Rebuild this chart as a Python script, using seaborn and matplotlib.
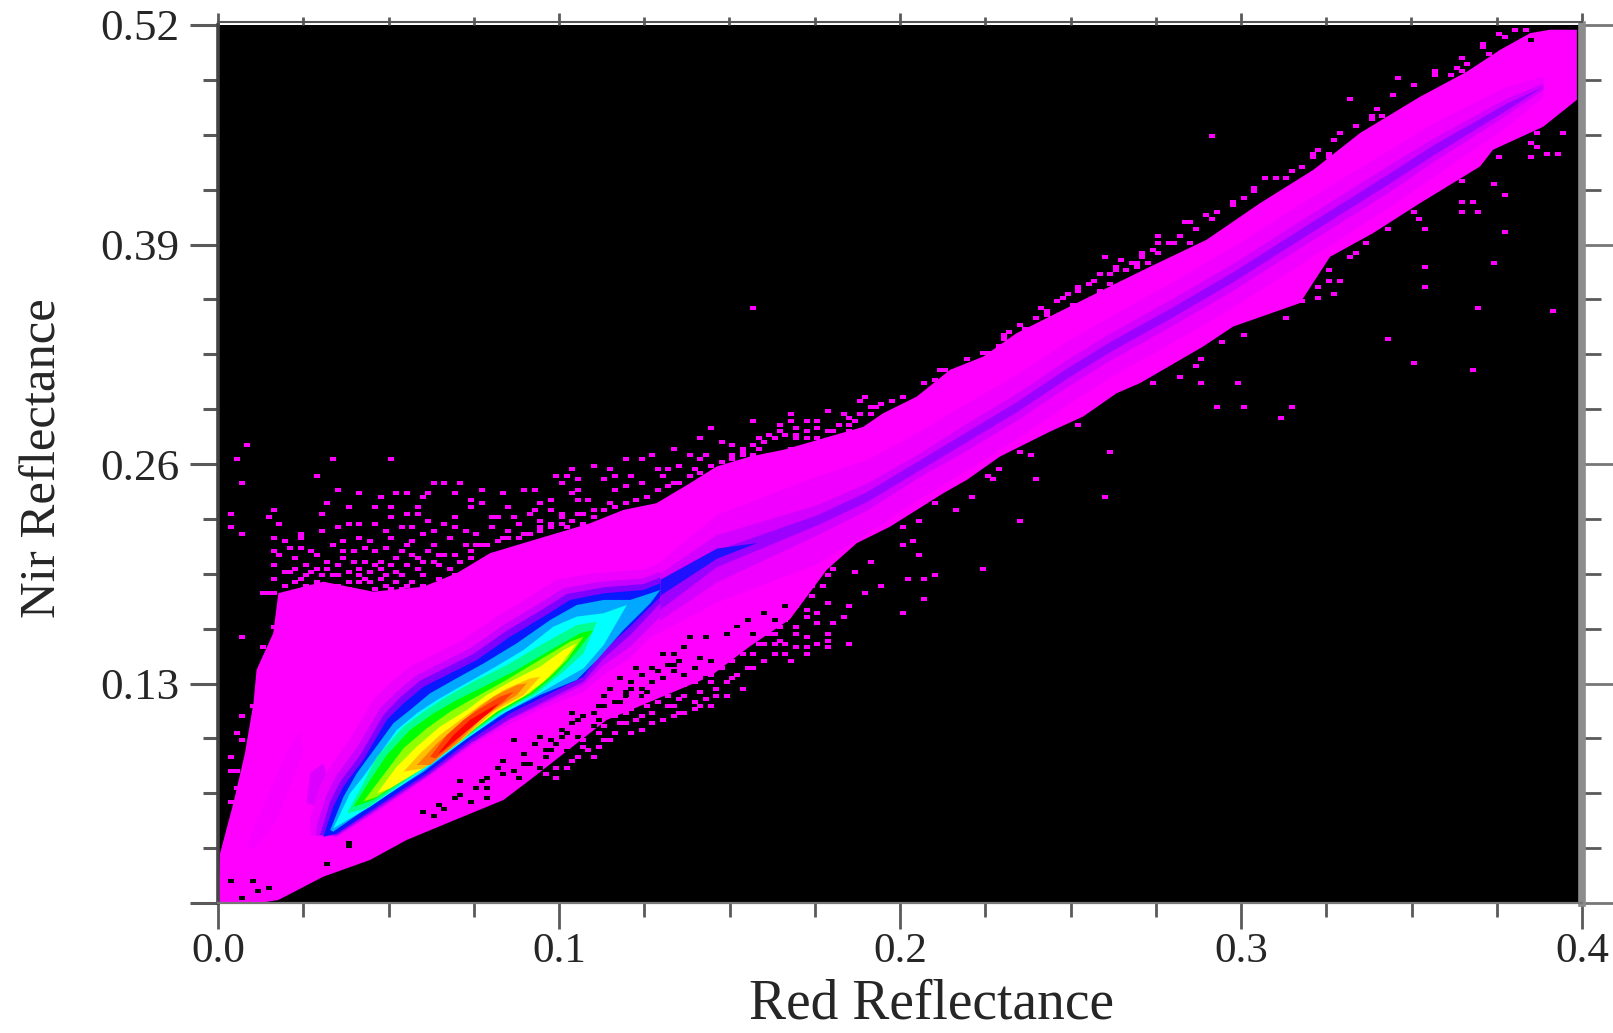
import matplotlib.pyplot as plt
import matplotlib.transforms as mtransforms
from matplotlib.markers import MarkerStyle
from matplotlib.path import Path
import numpy as np
import seaborn as sns

# the source is a 256 x 256 density image, speckle is kept as (red cell, nir cell)
n_cells = 256
red_max = 0.4
nir_max = 0.52

# outer edge of the solid magenta cloud
body_upper_red = [0.0, 0.0006, 0.0045, 0.0079, 0.0104, 0.0113, 0.0162, 0.0177, 0.0309, 0.0455, 0.0602, 0.07,
                  0.0798, 0.0895, 0.0993, 0.1091, 0.1189, 0.1286, 0.1384, 0.1462, 0.156, 0.1658, 0.1892, 0.1951,
                  0.2049, 0.2147, 0.2244, 0.2342, 0.244, 0.2537, 0.2635, 0.2733, 0.2899, 0.3056, 0.3212, 0.3349,
                  0.3525, 0.3662, 0.376, 0.3848, 0.3906, 0.3985]
body_upper_nir = [0.0, 0.0294, 0.059, 0.0887, 0.1183, 0.138, 0.1598, 0.1835, 0.1903, 0.1844, 0.1873, 0.1953,
                  0.2072, 0.2131, 0.219, 0.2249, 0.2328, 0.2368, 0.2486, 0.2585, 0.2644, 0.2684, 0.282, 0.2901,
                  0.2999, 0.3158, 0.3236, 0.3375, 0.3474, 0.3572, 0.3671, 0.3768, 0.3928, 0.4145, 0.4342, 0.456,
                  0.4775, 0.4923, 0.5053, 0.5152, 0.5172, 0.5172]
body_lower_red = [0.0, 0.0123, 0.0177, 0.0309, 0.0446, 0.0553, 0.0671, 0.0837, 0.0915, 0.114, 0.1443, 0.156,
                  0.1677, 0.1785, 0.1873, 0.1971, 0.2127, 0.2196, 0.2293, 0.244, 0.2537, 0.2635, 0.2704, 0.2889,
                  0.2977, 0.3173, 0.3261, 0.3387, 0.3525, 0.3701, 0.3739, 0.3886, 0.3985]
body_lower_nir = [0.0, 0.0, 0.0018, 0.0156, 0.0255, 0.0373, 0.0472, 0.061, 0.0729, 0.1084, 0.1341, 0.152,
                  0.168, 0.1973, 0.2131, 0.2229, 0.2427, 0.2506, 0.2644, 0.2792, 0.2881, 0.3019, 0.3079, 0.3296,
                  0.3414, 0.3553, 0.3827, 0.3967, 0.4145, 0.4362, 0.4461, 0.4597, 0.4757]

# faint patches left of the core
patch_red = [0.026, 0.027, 0.0309, 0.0328, 0.0328]
patch_nir = [0.059, 0.0768, 0.0828, 0.0689, 0.0551]
streak_red = [0.0084, 0.0113, 0.0201, 0.024, 0.025, 0.0172, 0.0104]
streak_nir = [0.0334, 0.0492, 0.0887, 0.1025, 0.0887, 0.0492, 0.0314]

# density ridge running up the diagonal
ridge_red = [0.1, 0.1267, 0.1462, 0.1756, 0.1902, 0.2049, 0.2196, 0.2342, 0.2489, 0.2616, 0.2792, 0.2977, 0.3193,
             0.3427, 0.3564, 0.3779, 0.3886]
ridge_nir = [0.138, 0.1775, 0.2042, 0.2269, 0.2407, 0.2585, 0.2763, 0.294, 0.3138, 0.3296, 0.3493, 0.371, 0.3987,
             0.4283, 0.4461, 0.4718, 0.4837]
ridge_wide = [0.006, 0.02, 0.026, 0.026, 0.022, 0.02, 0.02, 0.019, 0.019, 0.018, 0.018, 0.018, 0.018,
              0.017, 0.016, 0.012, 0.006]
ridge_mid = [0.003, 0.014, 0.014, 0.009, 0.008, 0.007, 0.008, 0.008, 0.008, 0.008, 0.008, 0.008, 0.008,
             0.008, 0.007, 0.005, 0.002]
ridge_core = [0.0, 0.008, 0.005, 0.003, 0.003, 0.003, 0.003, 0.003, 0.003, 0.003, 0.003, 0.003, 0.003,
              0.003, 0.003, 0.002, 0.0]
tip_red = [0.125, 0.1267, 0.1462, 0.158]
tip_nir = [0.178, 0.1835, 0.2072, 0.2135]
tip_spread = [0.004, 0.005, 0.003, 0.0]

# contours of the dense core, outer to inner
halo_red = [0.027, 0.0298, 0.0328, 0.0386, 0.0455, 0.0504, 0.0563, 0.0641, 0.0719, 0.0817, 0.0915, 0.0993, 0.1101,
            0.1248, 0.1297, 0.1297, 0.1209, 0.1131, 0.1072, 0.0955, 0.0857, 0.0739, 0.0612, 0.0466, 0.0348, 0.027]
halo_nir = [0.05, 0.069, 0.0809, 0.0967, 0.1204, 0.1302, 0.1401, 0.148, 0.1559, 0.1697, 0.1816, 0.1915, 0.1954,
            0.1974, 0.2013, 0.164, 0.145, 0.135, 0.125, 0.1155, 0.106, 0.0925, 0.0738, 0.054, 0.039, 0.04]
violet_red = [0.0289, 0.0318, 0.0348, 0.0406, 0.0475, 0.0524, 0.0583, 0.0661, 0.0739, 0.0837, 0.0935, 0.1013, 0.1121,
              0.1248, 0.1297, 0.1297, 0.1209, 0.1131, 0.1072, 0.0955, 0.0857, 0.0739, 0.0612, 0.0466, 0.0348, 0.0289]
violet_nir = [0.045, 0.064, 0.0758, 0.0916, 0.1153, 0.1251, 0.135, 0.1429, 0.1508, 0.1646, 0.1765, 0.1864, 0.1903,
              0.1923, 0.1962, 0.1696, 0.1518, 0.1409, 0.1291, 0.1178, 0.1084, 0.0935, 0.0745, 0.0545, 0.0395, 0.04]
purple_red = [0.0299, 0.0329, 0.0358, 0.0417, 0.0485, 0.0534, 0.0593, 0.0671, 0.0749, 0.0847, 0.0945, 0.1023, 0.1131,
              0.1248, 0.1297, 0.1297, 0.1209, 0.1131, 0.1072, 0.0955, 0.0857, 0.0739, 0.0612, 0.0466, 0.0348]
purple_nir = [0.0402, 0.06, 0.0718, 0.0876, 0.1113, 0.1218, 0.1317, 0.1396, 0.1475, 0.1613, 0.1731, 0.183, 0.187,
              0.1889, 0.1929, 0.1775, 0.1587, 0.1449, 0.1311, 0.1192, 0.1093, 0.0945, 0.0752, 0.0558, 0.0402]
blue_red = [0.0309, 0.0338, 0.0368, 0.0426, 0.0495, 0.0544, 0.0603, 0.0681, 0.0759, 0.0857, 0.0955, 0.1033, 0.1131,
            0.1248, 0.1297, 0.1297, 0.1209, 0.1131, 0.1072, 0.0955, 0.0857, 0.0739, 0.0612, 0.0466, 0.0348]
blue_nir = [0.0392, 0.057, 0.0689, 0.0847, 0.1084, 0.1182, 0.1281, 0.136, 0.1439, 0.1577, 0.1696, 0.1795, 0.1834,
            0.1854, 0.1893, 0.1814, 0.1637, 0.1498, 0.134, 0.1222, 0.1123, 0.0965, 0.0768, 0.057, 0.0412]
sky_red = [0.0329, 0.0368, 0.0407, 0.0514, 0.0563, 0.0622, 0.0691, 0.0779, 0.0876, 0.0974, 0.1052, 0.1131, 0.1209,
           0.1268, 0.1297, 0.1268, 0.1189, 0.1111, 0.1052, 0.0945, 0.0847, 0.073, 0.0603, 0.0456, 0.0338]
sky_nir = [0.0432, 0.0629, 0.0768, 0.1064, 0.1143, 0.1242, 0.1321, 0.1419, 0.1538, 0.1676, 0.1765, 0.1795, 0.1795,
           0.1834, 0.1854, 0.1775, 0.1617, 0.1439, 0.1321, 0.1232, 0.1133, 0.0975, 0.0777, 0.059, 0.0422]
cyan_red = [0.0338, 0.0387, 0.0426, 0.0524, 0.0583, 0.0642, 0.071, 0.0798, 0.0896, 0.0984, 0.1052, 0.1131, 0.1199,
            0.1131, 0.1072, 0.0994, 0.0935, 0.0827, 0.071, 0.0583, 0.0446]
cyan_nir = [0.0442, 0.0649, 0.0748, 0.1024, 0.1123, 0.1202, 0.1281, 0.138, 0.1498, 0.1637, 0.1696, 0.1716, 0.1765,
            0.1528, 0.139, 0.1301, 0.1232, 0.1113, 0.0945, 0.0758, 0.057]
spring_red = [0.0378, 0.0426, 0.0466, 0.0544, 0.0603, 0.0671, 0.0749, 0.0847, 0.0955, 0.1052, 0.1111,
              0.1072, 0.1013, 0.0935, 0.0827, 0.071, 0.0583, 0.0436]
spring_nir = [0.053, 0.0708, 0.0866, 0.1044, 0.1133, 0.1222, 0.1311, 0.1409, 0.1538, 0.1646, 0.1666,
              0.1479, 0.137, 0.1242, 0.1123, 0.0955, 0.0768, 0.056]
green_red = [0.0397, 0.0446, 0.0495, 0.0563, 0.0632, 0.07, 0.0779, 0.0876, 0.0984, 0.1062, 0.1101,
             0.1052, 0.0994, 0.0925, 0.0827, 0.071, 0.0583, 0.0456]
green_nir = [0.057, 0.0728, 0.0876, 0.1024, 0.1123, 0.1202, 0.1281, 0.138, 0.1508, 0.1597, 0.1617,
             0.1488, 0.136, 0.1242, 0.1133, 0.0965, 0.0777, 0.061]
lime_red = [0.0426, 0.0485, 0.0544, 0.0612, 0.0681, 0.0749, 0.0837, 0.0935, 0.1033, 0.1072,
            0.1023, 0.0974, 0.0915, 0.0823, 0.071, 0.0583, 0.0466]
lime_nir = [0.06, 0.0758, 0.0916, 0.1034, 0.1133, 0.1212, 0.1311, 0.1429, 0.1548, 0.1577,
            0.1439, 0.134, 0.1242, 0.1143, 0.0975, 0.0787, 0.0629]
yellow_red = [0.0466, 0.0524, 0.0583, 0.0651, 0.073, 0.0788, 0.0867, 0.0945, 0.1013, 0.1052,
              0.1004, 0.0955, 0.0896, 0.0818, 0.071, 0.0593, 0.0505]
yellow_nir = [0.0649, 0.0807, 0.0926, 0.1044, 0.1143, 0.1232, 0.1321, 0.14, 0.1498, 0.1538,
              0.1409, 0.1311, 0.1222, 0.1133, 0.0965, 0.0787, 0.0679]
amber_red = [0.0544, 0.0593, 0.0651, 0.071, 0.0769, 0.0837, 0.0915, 0.0945, 0.0896, 0.0808, 0.071, 0.0603]
amber_nir = [0.0778, 0.0886, 0.0995, 0.1084, 0.1172, 0.1261, 0.133, 0.134, 0.1232, 0.1133, 0.0955, 0.0797]
orange_red = [0.0583, 0.0642, 0.07, 0.0749, 0.0808, 0.0876, 0.0906, 0.0876, 0.0779, 0.07, 0.0622]
orange_nir = [0.0817, 0.0945, 0.1044, 0.1133, 0.1222, 0.1291, 0.1301, 0.1232, 0.1103, 0.0945, 0.0817]
scarlet_red = [0.0622, 0.0671, 0.072, 0.0769, 0.0827, 0.0867, 0.0837, 0.0759, 0.069, 0.0637]
scarlet_nir = [0.0866, 0.0995, 0.1084, 0.1153, 0.1222, 0.1251, 0.1192, 0.1074, 0.0945, 0.0856]
peak_red = [0.0646, 0.0691, 0.0739, 0.0788, 0.0823, 0.0798, 0.0739, 0.069, 0.0656]
peak_nir = [0.0886, 0.0995, 0.1084, 0.1143, 0.1182, 0.1133, 0.1034, 0.0955, 0.0896]

# lone cells above the cloud, left part
speck_upper_left = [
    (5, 133), (3, 129), (21, 129), (32, 129), (18, 124), (4, 122), (22, 120), (40, 122), (42, 122), (45, 122),
    (49, 120), (26, 119), (30, 118), (33, 119), (35, 119), (39, 119), (38, 118), (44, 119), (47, 117), (53, 119),
    (57, 120), (59, 120), (63, 124), (65, 124), (67, 123), (66, 126), (70, 127), (73, 126), (74, 124), (72, 123),
    (77, 124), (76, 129), (79, 129), (81, 130), (85, 132), (90, 135), (92, 138), (88, 130), (91, 130), (82, 126),
    (84, 126), (86, 127), (89, 126), (83, 124), (85, 122), (79, 122), (76, 121), (74, 120), (67, 120), (64, 122),
    (66, 119), (67, 117), (69, 117), (62, 117), (60, 116), (62, 114), (59, 114), (47, 115), (49, 116), (54, 115),
    (20, 116), (24, 115), (29, 115), (32, 115), (37, 115), (10, 114), (2, 113), (19, 113), (24, 110), (9, 112),
    (11, 110), (22, 109), (29, 110), (32, 112), (35, 113), (37, 113), (44, 112), (51, 112), (55, 112), (58, 113),
    (64, 113), (2, 109), (4, 107), (10, 106), (10, 102), (11, 101), (13, 103), (15, 107), (15, 106), (15, 103),
    (17, 102), (18, 101), (21, 104), (26, 106), (27, 103), (29, 102), (23, 102), (20, 99), (23, 100), (25, 99),
    (27, 99), (20, 97), (22, 95), (26, 97), (29, 98), (31, 95), (32, 98), (30, 94), (33, 93), (35, 92), (40, 92),
    (34, 102), (35, 104), (32, 106), (36, 105), (38, 107), (34, 109), (39, 111), (42, 110), (40, 108), (44, 109),
    (46, 108), (48, 107), (51, 109), (54, 108), (56, 110), (60, 111), (62, 110), (64, 112), (67, 113), (40, 99),
    (41, 98), (44, 95), (38, 95), (37, 97), (34, 95), (29, 91), (22, 92), (24, 91), (32, 91), (34, 91), (10, 98),
    (13, 96), (15, 94), (17, 96), (10, 94), (12, 105), (14, 100), (16, 98), (18, 97), (21, 95), (24, 96), (27, 94),
    (25, 102), (28, 105), (31, 103), (33, 100), (36, 101), (38, 99), (30, 99), (23, 105), (19, 108), (26, 110),
    (31, 108), (36, 109), (40, 104), (43, 106), (46, 104), (42, 101), (49, 104), (53, 106), (57, 107), (52, 112),
    (60, 108), (65, 109), (70, 114), (73, 116), (68, 110), (8, 90), (9, 90), (10, 90),
    (12, 92), (14, 93), (16, 92), (18, 93), (20, 92), (26, 93), (28, 93), (31, 92), (36, 93), (38, 92), (41, 94),
    (43, 97), (45, 99), (47, 100), (12, 96), (14, 97), (16, 95), (19, 95), (22, 98), (24, 93), (26, 95), (28, 96),
    (30, 97), (33, 96), (35, 98), (37, 100), (39, 102), (41, 101), (44, 101), (47, 102), (48, 104), (50, 104),
    (52, 105), (54, 106), (56, 106), (58, 107), (60, 109), (62, 109), (64, 110), (66, 111), (68, 113), (70, 112),
    (72, 114), (74, 115), (76, 116), (78, 117), (80, 118), (82, 120), (84, 121), (86, 122), (88, 124), (90, 125),
]
# cells left of the funnel
speck_funnel = [
    (13, 84), (10, 80), (13, 79), (14, 76), (12, 75), (8, 74), (9, 71), (4, 77), (7, 62), (6, 57), (4, 54), (7, 54),
    (9, 48), (3, 49), (4, 47), (7, 43), (2, 42), (8, 40), (2, 38), (3, 38), (3, 33), (2, 29), (3, 27), (2, 22), (4, 21),
]
# cells above the cloud, middle and right
speck_upper_right = [
    (100, 173), (92, 138), (90, 135), (85, 132), (81, 130), (88, 130), (90, 129), (94, 134), (96, 133), (100, 140),
    (107, 142), (114, 143), (117, 142), (121, 147), (120, 146), (105, 139), (107, 140), (110, 140), (112, 140),
    (118, 139), (119, 140), (122, 142), (123, 144), (101, 135), (103, 136), (108, 138), (105, 137), (112, 138),
    (115, 137), (118, 137), (108, 135), (110, 135), (107, 132), (110, 132), (114, 134), (117, 135), (98, 132),
    (101, 132), (98, 131), (96, 129), (100, 130), (103, 130), (112, 130), (135, 155), (134, 152), (144, 160),
    (148, 166), (153, 170), (157, 175), (159, 177), (163, 180), (165, 183), (166, 188), (169, 187), (173, 189),
    (176, 189), (172, 185), (174, 186), (161, 178), (165, 178), (168, 184), (160, 174), (162, 173), (155, 171),
    (154, 173), (151, 167), (146, 162), (147, 164), (240, 253), (243, 254), (237, 249), (238, 247), (247, 251),
    (221, 240), (228, 242), (232, 243), (233, 242), (234, 244), (231, 241), (232, 238), (212, 234), (217, 231),
    (218, 229), (216, 228), (210, 224), (186, 223), (205, 218), (206, 219), (208, 218), (208, 217), (211, 219),
    (203, 214), (196, 211), (200, 211), (203, 210), (194, 208), (192, 205), (190, 203), (187, 201), (185, 200),
    (181, 198), (182, 198), (176, 194), (180, 194), (179, 192), (176, 192), (182, 192), (166, 188), (169, 187),
    (173, 188), (168, 185), (172, 186), (167, 180), (170, 184),
    (92, 127), (94, 128), (96, 130), (98, 130), (100, 133), (102, 134), (104, 135), (106, 136), (108, 136),
    (110, 137), (112, 135), (114, 137), (116, 139), (118, 141), (120, 142), (122, 144), (124, 145), (126, 146),
    (128, 147), (132, 151), (136, 155), (140, 158), (143, 160), (147, 165), (150, 168), (155, 172), (158, 176),
    (161, 179), (164, 181), (167, 183), (171, 186), (175, 190), (178, 192), (183, 196), (186, 199), (190, 204),
    (194, 207), (198, 211), (201, 213), (205, 217), (209, 222), (213, 226), (216, 229), (220, 235), (224, 238),
    (228, 241), (233, 246), (237, 250), (241, 252), (245, 254),
]
# cells below the cloud
speck_lower = [
    (61, 37), (63, 39), (65, 39), (67, 42), (70, 42), (71, 45), (73, 47), (68, 45), (65, 45), (77, 49), (79, 50),
    (75, 52), (79, 54), (72, 51), (81, 55), (86, 55), (89, 56), (85, 57), (90, 57), (92, 57), (82, 58), (76, 55),
    (75, 57), (79, 58), (84, 60), (87, 60), (90, 61), (80, 60), (82, 63), (85, 64), (89, 64), (92, 64), (77, 56),
    (87, 63), (167, 131), (153, 123), (166, 118), (150, 111), (143, 97), (134, 95), (132, 94), (129, 94), (124, 92),
    (121, 90), (132, 88), (128, 84), (119, 96), (122, 99), (128, 104), (130, 105), (131, 101), (128, 109), (131, 111),
    (138, 114), (141, 118), (134, 116), (145, 123), (144, 124), (146, 126), (152, 130), (150, 131), (171, 152),
    (175, 151), (177, 157), (161, 139), (113, 92), (111, 92), (114, 95), (115, 97), (108, 90), (108, 89), (111, 89),
    (109, 88), (114, 87), (103, 86), (105, 85), (108, 86), (110, 85), (118, 86), (112, 84), (103, 82), (106, 82),
    (110, 83), (117, 83), (98, 84), (101, 80), (105, 80), (108, 80), (112, 81), (115, 81), (94, 80), (97, 79),
    (90, 79), (114, 78), (104, 78), (108, 78), (110, 77), (93, 77), (97, 76), (101, 75), (104, 75), (106, 75),
    (114, 76), (118, 75), (94, 75), (103, 78), (252, 224), (249, 218), (251, 218), (246, 217), (247, 220), (246, 221),
    (247, 224), (245, 225), (240, 217), (233, 210), (239, 209), (241, 206), (233, 204), (235, 204), (233, 201),
    (236, 201), (241, 195), (239, 186), (226, 196), (225, 199), (224, 201), (226, 185), (226, 179), (236, 173),
    (250, 172), (219, 164), (224, 157), (235, 155), (219, 196), (215, 192), (213, 189), (212, 188), (210, 181),
    (208, 184), (208, 181), (206, 179), (206, 176), (209, 177), (202, 180), (202, 177), (203, 175), (200, 170),
    (192, 165), (188, 163), (184, 158), (183, 156), (180, 153), (184, 151), (191, 151), (175, 151), (187, 144),
    (192, 144), (201, 144), (199, 141),
    (93, 62), (95, 60), (97, 66), (99, 68), (94, 68), (96, 70), (98, 72), (100, 68), (102, 70), (104, 72), (106, 72),
    (108, 74), (110, 74), (112, 75), (114, 74), (100, 72), (102, 75), (105, 76), (107, 70), (110, 72), (92, 66),
    (94, 72), (96, 65), (98, 62), (63, 36), (66, 41), (69, 44), (72, 47), (74, 49), (76, 52), (78, 53), (81, 52),
    (83, 53), (85, 54), (87, 55), (89, 58), (91, 59), (84, 57), (86, 59), (80, 57), (77, 59), (74, 54), (71, 49),
    (68, 47), (93, 60), (95, 64),
]
# empty cells inside the magenta
hole_cells = [
    (2, 6), (6, 6), (4, 1), (7, 3), (9, 4), (20, 11), (24, 17), (24, 16), (45, 35), (42, 27), (38, 26), (40, 25),
    (45, 31), (48, 33), (50, 30), (50, 33), (55, 47), (53, 41), (49, 35), (52, 39), (55, 38), (57, 43), (59, 46),
    (61, 42), (62, 47), (65, 44), (66, 55), (68, 54), (71, 57), (73, 62), (75, 65), (79, 66), (81, 68), (85, 72),
    (87, 74), (91, 77), (62, 39), (57, 40), (59, 35), (64, 48), (67, 48), (70, 51), (68, 43), (72, 57), (75, 58),
    (79, 62), (82, 67), (85, 67), (90, 71), (91, 65), (85, 69), (89, 68), (82, 63), (79, 60), (76, 61), (74, 58),
    (64, 50), (60, 48), (67, 53), (71, 53), (77, 64), (80, 61), (87, 66), (92, 70), (65, 49), (62, 44), (60, 39),
    (76, 60), (81, 64), (84, 69), (246, 251), (78, 68), (83, 72), (88, 77), (86, 70), (83, 65), (77, 62), (72, 60),
    (70, 55), (66, 52), (63, 46), (61, 44), (58, 40), (56, 36), (53, 37), (50, 36), (47, 29), (44, 30), (41, 28),
    (95, 78), (97, 80), (99, 82), (100, 78), (102, 84), (104, 82), (106, 86), (107, 80), (109, 88), (110, 84),
    (112, 90), (114, 88), (116, 92),
]

level_colors = {
    "halo": "#ee00ff", "violet": "#c800ff", "purple": "#8000ff", "blue": "#0818ff", "sky": "#00a8ff",
    "cyan": "#00ffff", "spring": "#00ff90", "green": "#00ff00", "lime": "#90ff00", "yellow": "#ffff00",
    "amber": "#ffc000", "orange": "#ff8000", "scarlet": "#ff4000", "peak": "#ff0000",
}
core_levels = [
    ("halo", halo_red, halo_nir), ("violet", violet_red, violet_nir), ("purple", purple_red, purple_nir),
    ("blue", blue_red, blue_nir), ("sky", sky_red, sky_nir), ("cyan", cyan_red, cyan_nir),
    ("spring", spring_red, spring_nir), ("green", green_red, green_nir), ("lime", lime_red, lime_nir),
    ("yellow", yellow_red, yellow_nir), ("amber", amber_red, amber_nir), ("orange", orange_red, orange_nir),
    ("scarlet", scarlet_red, scarlet_nir), ("peak", peak_red, peak_nir),
]

x_major = [0.0, 0.1, 0.2, 0.3, 0.4]
x_minor = [0.025, 0.05, 0.075, 0.125, 0.15, 0.175, 0.225, 0.25, 0.275, 0.325, 0.35, 0.375]
y_major = [0.0, 0.13, 0.26, 0.39, 0.52]
y_minor = [0.0325, 0.065, 0.0975, 0.1625, 0.195, 0.2275, 0.2925, 0.325, 0.3575, 0.4225, 0.455, 0.4875]
y_labels = ["", "0.13", "0.26", "0.39", "0.52"]

MAGENTA = "#ff00ff"
TICK = "#5a5a5a"

sns.set_theme(style="ticks")
plt.rcParams["font.family"] = ["Liberation Serif", "DejaVu Serif"]

fig = plt.figure(figsize=(16.13, 10.33), dpi=100, facecolor="white")
ax = fig.add_axes([218 / 1613, 130 / 1033, 1364 / 1613, 878 / 1033], facecolor="black")

ax.fill(body_upper_red + body_lower_red[::-1], body_upper_nir + body_lower_nir[::-1], color=MAGENTA, lw=0)
ax.fill(streak_red, streak_nir, color="#f800ff", lw=0)
ax.fill(patch_red, patch_nir, color="#dc00ff", lw=0)

ridge_x = np.array(ridge_red)
ridge_y = np.array(ridge_nir)
ax.fill_between(ridge_x, ridge_y - ridge_wide, ridge_y + ridge_wide, color="#f200ff", lw=0)
ax.fill_between(ridge_x, ridge_y - ridge_mid, ridge_y + ridge_mid, color="#d400ff", lw=0)
ax.fill_between(ridge_x, ridge_y - ridge_core, ridge_y + ridge_core, color="#9c00ff", lw=0)
tip_y = np.array(tip_nir)
ax.fill_between(tip_red, tip_y - tip_spread, tip_y + tip_spread, color="#2010ff", lw=0)

for name, level_red, level_nir in core_levels:
    ax.fill(level_red, level_nir, color=level_colors[name], lw=0)

# one image cell is wider than tall
cell_marker = MarkerStyle(Path([(-1, -0.643), (1, -0.643), (1, 0.643), (-1, 0.643), (-1, -0.643)]))


def plot_cells(cells, color):
    arr = np.array(cells, dtype=float)
    sns.scatterplot(
        x=(arr[:, 0] + 0.5) * red_max / n_cells,
        y=(arr[:, 1] + 0.5) * nir_max / n_cells,
        marker=cell_marker,
        s=19,
        color=color,
        linewidth=0,
        ax=ax,
        legend=False,
    )


plot_cells(hole_cells, "black")
plot_cells(speck_upper_left + speck_funnel + speck_upper_right + speck_lower, MAGENTA)

ax.set_xlim(0, red_max)
ax.set_ylim(0, nir_max)

ax.set_xticks(x_major)
ax.set_xticks(x_minor, minor=True)
ax.set_xticklabels(["%.1f" % v for v in x_major])
ax.set_yticks(y_major)
ax.set_yticks(y_minor, minor=True)
ax.set_yticklabels(y_labels)
ax.tick_params(axis="x", which="major", direction="out", length=19, width=2, color=TICK, labelsize=31, pad=2)
ax.tick_params(axis="x", which="minor", direction="out", length=10, width=2, color=TICK)
ax.tick_params(axis="y", which="major", direction="out", length=20, width=2.2, color=TICK, labelsize=32.5, pad=8)
ax.tick_params(axis="y", which="minor", direction="out", length=11, width=2.2, color=TICK)

# end labels sit slightly left of their ticks
labels = ax.get_xticklabels()
labels[0].set_transform(labels[0].get_transform() + mtransforms.ScaledTranslation(-19 / 100, 0, fig.dpi_scale_trans))
labels[-1].set_transform(labels[-1].get_transform() + mtransforms.ScaledTranslation(-6 / 100, 0, fig.dpi_scale_trans))

sec_top = ax.secondary_xaxis("top")
sec_top.set_xticks(x_major)
sec_top.set_xticks(x_minor, minor=True)
sec_top.set_xticklabels([])
sec_top.tick_params(which="major", length=9, width=2, color=TICK)
sec_top.tick_params(which="minor", length=6, width=2, color=TICK)
sec_top.spines["top"].set_visible(False)

sec_right = ax.secondary_yaxis("right")
sec_right.set_yticks(y_major)
sec_right.set_yticks(y_minor, minor=True)
sec_right.set_yticklabels([])
sec_right.tick_params(which="major", length=23, width=2, color="#777777")
sec_right.tick_params(which="minor", length=14, width=2, color=TICK)
sec_right.spines["right"].set_visible(False)

ax.spines["left"].set(linewidth=2.6, color="#444444")
ax.spines["bottom"].set(linewidth=1.6, color="#777777")
ax.spines["right"].set(linewidth=5.5, color="#8c8c8c", visible=True)
ax.spines["top"].set(linewidth=1.5, color="#555555", visible=True)
ax.spines["top"].set_position(("outward", 2))

ax.set_xlabel("Red Reflectance", fontsize=40)
ax.xaxis.set_label_coords(0.523, -0.086)
ax.set_ylabel("Nir Reflectance", fontsize=36.5, va="center")
ax.yaxis.set_label_coords(-0.128, 0.507)

plt.savefig("out.png", dpi=100)
